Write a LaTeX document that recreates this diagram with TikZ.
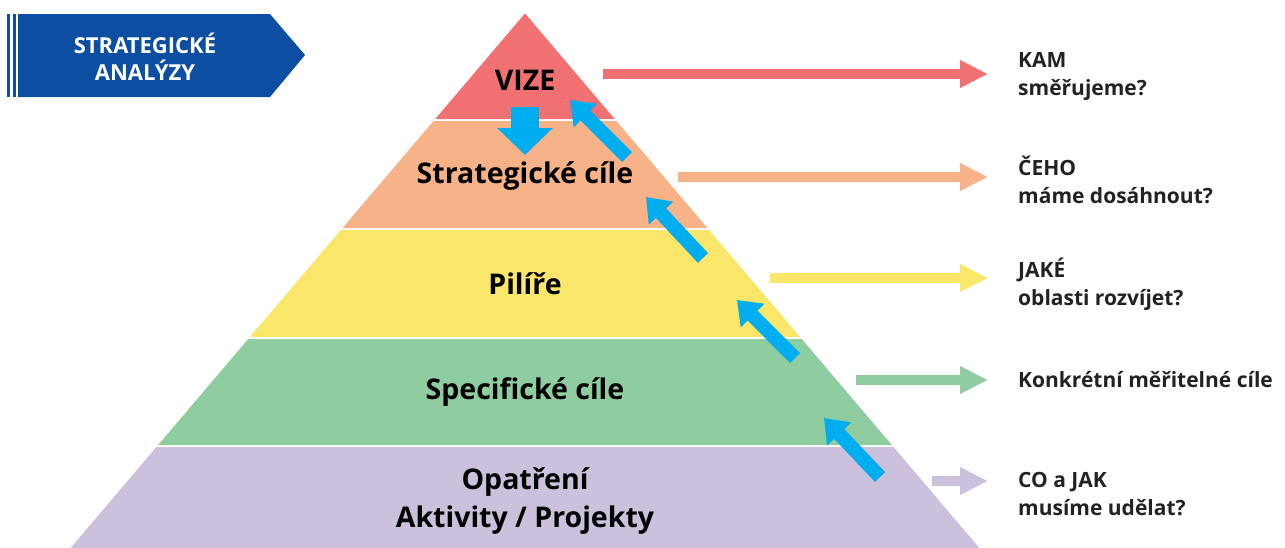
\documentclass[tikz,border=0pt]{standalone}
\usepackage{fontspec}
\setmainfont{Open Sans}
\usetikzlibrary{arrows.meta}

\definecolor{vizered}{RGB}{241,113,114}
\definecolor{cileorange}{RGB}{248,178,135}
\definecolor{pilireyellow}{RGB}{250,230,105}
\definecolor{specgreen}{RGB}{143,205,161}
\definecolor{opatpurple}{RGB}{204,193,220}
\definecolor{sipkablue}{RGB}{0,174,239}
\definecolor{bannerblue}{RGB}{12,78,162}
\definecolor{textgray}{RGB}{34,34,34}

\tikzset{
	pasmo/.style={draw=white, line width=1.5pt},
	popis/.style={font=\bfseries\fontsize{28.5}{38}\selectfont, text=black, align=center},
	otazka/.style={font=\bfseries\fontsize{21}{28}\selectfont, text=textgray, align=left, anchor=west, inner sep=0pt},
	vodorovna/.style={line width=10pt, shorten >=30pt, -{Triangle[width=26pt,length=28pt]}},
	modra/.style={sipkablue, line width=14pt, -{Triangle[width=32pt,length=22pt]}},
}

\begin{document}
\begin{tikzpicture}[x=1pt, y=-1pt]
		\useasboundingbox (0,0) rectangle (1285,547);

		% pruh vlevo nahoře
		\fill[bannerblue] (7,14) rectangle (10,97);
		\fill[bannerblue] (13,14) rectangle (16,97);
		\fill[bannerblue] (18,14) -- (270,14) -- (305,55) -- (270,97) -- (18,97) -- cycle;
		\node[font=\bfseries\fontsize{22}{27}\selectfont, text=white, align=center] (analyzy) at (145,57) {STRATEGICKÉ\\ANALÝZY};

		% pásma pyramidy
		\foreach \ya/\yb/\barva in {12/120/vizered, 120/229/cileorange, 229/338/pilireyellow, 338/446/specgreen, 446/560/opatpurple} {
				\path[fill=\barva, pasmo] ({525-0.85*(\ya-12)},\ya) -- ({525+0.85*(\ya-12)},\ya)
					-- ({525+0.85*(\yb-12)},\yb) -- ({525-0.85*(\yb-12)},\yb) -- cycle;
			}

		% popisky v pyramidě
		\node[popis] (vize) at (525,80) {VIZE};
		\node[popis] (strat) at (525,176) {Strategické cíle};
		\node[popis] (pilire) at (525,284) {Pilíře};
		\node[popis] (spec) at (525,392) {Specifické cíle};
		\node[popis] (opatreni) at (525,501) {Opatření\\Aktivity / Projekty};

		% otázky vpravo
		\node[otazka] (kam) at (1018,76) {KAM\\směřujeme?};
		\node[otazka] (ceho) at (1018,180) {ČEHO\\máme dosáhnout?};
		\node[otazka] (jake) at (1018,284) {JAKÉ\\oblasti rozvíjet?};
		\node[otazka] (konkr) at (1018,380) {Konkrétní měřitelné cíle};
		\node[otazka] (coajak) at (1018,494) {CO a JAK\\musíme udělat?};

		% vodorovné šipky
		\foreach \x/\y/\barva/\cil in {603/74/vizered/kam, 678/177/cileorange/ceho, 770/278/pilireyellow/jake, 856/380/specgreen/konkr, 932/481/opatpurple/coajak} {
				\coordinate (z-\cil) at (\x,\y);
				\draw[vodorovna, \barva] (z-\cil) -- (z-\cil -| \cil.west);
			}

		% modré šipky
		\coordinate (dolu1) at (525,107);
		\coordinate (dolu2) at (525,155);
		\draw[sipkablue, line width=28pt, -{Triangle[width=54pt,length=27pt]}] (dolu1) -- (dolu2);
		\foreach \i/\xa/\ya/\xb/\yb in {1/627/157/570/100, 2/703/258/646/197, 3/795/358/737/300, 4/880/477/824/418} {
				\coordinate (m\i a) at (\xa,\ya);
				\coordinate (m\i b) at (\xb,\yb);
				\draw[modra] (m\i a) -- (m\i b);
			}
	\end{tikzpicture}
\end{document}
